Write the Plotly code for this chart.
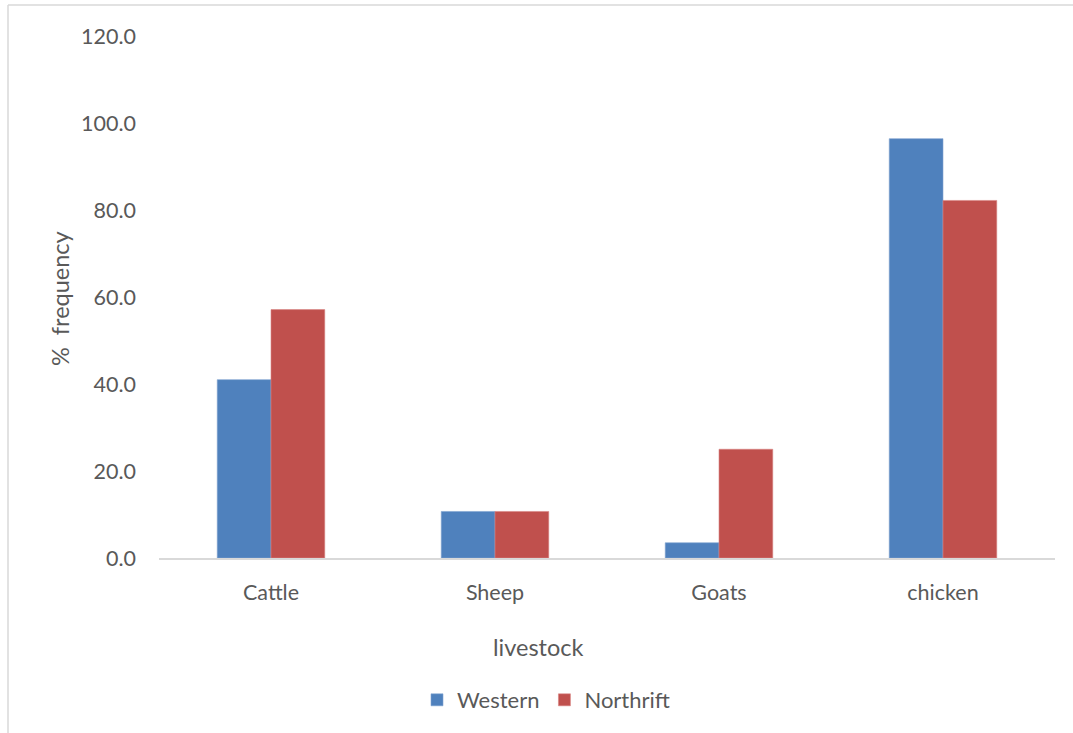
import plotly.graph_objects as go

# Livestock ownership by region (% frequency)
categories = ["Cattle", "Sheep", "Goats", "chicken"]
western = [41.0, 10.7, 3.5, 96.4]
northrift = [57.1, 10.7, 25.0, 82.2]
y_ticks = [0, 20, 40, 60, 80, 100, 120]
y_tick_labels = ["0.0", "20.0", "40.0", "60.0", "80.0", "100.0", "120.0"]

W, H = 1073, 733
L, R, T, B = 159, 18, 36, 175
pw, ph = W - L - R, H - T - B

font = "Lato, Calibri, Carlito, sans-serif"
txt = "#595959"

fig = go.Figure()
fig.add_trace(go.Bar(name="Western", x=categories, y=western,
                     marker=dict(color="#4F81BD", line=dict(color="#7fa3d0", width=0.6))))
fig.add_trace(go.Bar(name="Northrift", x=categories, y=northrift,
                     marker=dict(color="#C0504D", line=dict(color="#d98583", width=0.6))))


def px_x(p):
    return (p - L) / pw


def px_y(p):
    return (H - B - p) / ph


fig.update_layout(
    width=W, height=H,
    margin=dict(l=L, r=R, t=T, b=B, pad=0),
    paper_bgcolor="white", plot_bgcolor="white",
    barmode="group", bargap=0.52, bargroupgap=0,
    font=dict(family=font, size=21, color=txt),
    showlegend=True,
    legend=dict(orientation="h", x=px_x(546), xanchor="center",
                y=px_y(700), yanchor="middle",
                font=dict(family=font, size=22, color=txt),
                itemwidth=30, tracegroupgap=0),
    xaxis=dict(showline=True, linecolor="#d9d9d9", linewidth=1.5,
               showgrid=False, ticks="", ticklabelstandoff=14,
               tickfont=dict(family=font, size=21.5, color=txt)),
    yaxis=dict(range=[0, 120], tickvals=y_ticks, ticktext=y_tick_labels,
               showgrid=False, showline=False, zeroline=False, ticks="",
               ticklabelstandoff=22,
               tickfont=dict(family=font, size=21.5, color=txt)),
    annotations=[
        dict(text="livestock", xref="paper", yref="paper",
             x=px_x(538), y=px_y(647), xanchor="center", yanchor="middle",
             showarrow=False, font=dict(family=font, size=23.5, color=txt)),
        dict(text="%  frequency", xref="paper", yref="paper",
             x=px_x(60), y=px_y(299), xanchor="center", yanchor="middle",
             textangle=-90, showarrow=False,
             font=dict(family=font, size=23.5, color=txt)),
    ],
    shapes=[
        dict(type="line", xref="paper", yref="paper",
             x0=px_x(8), x1=px_x(8), y0=px_y(5), y1=px_y(740),
             line=dict(color="#d9d9d9", width=1.5)),
        dict(type="line", xref="paper", yref="paper",
             x0=px_x(8), x1=px_x(1080), y0=px_y(5), y1=px_y(5),
             line=dict(color="#d9d9d9", width=1.5)),
    ],
)

fig.write_html("out.html")
